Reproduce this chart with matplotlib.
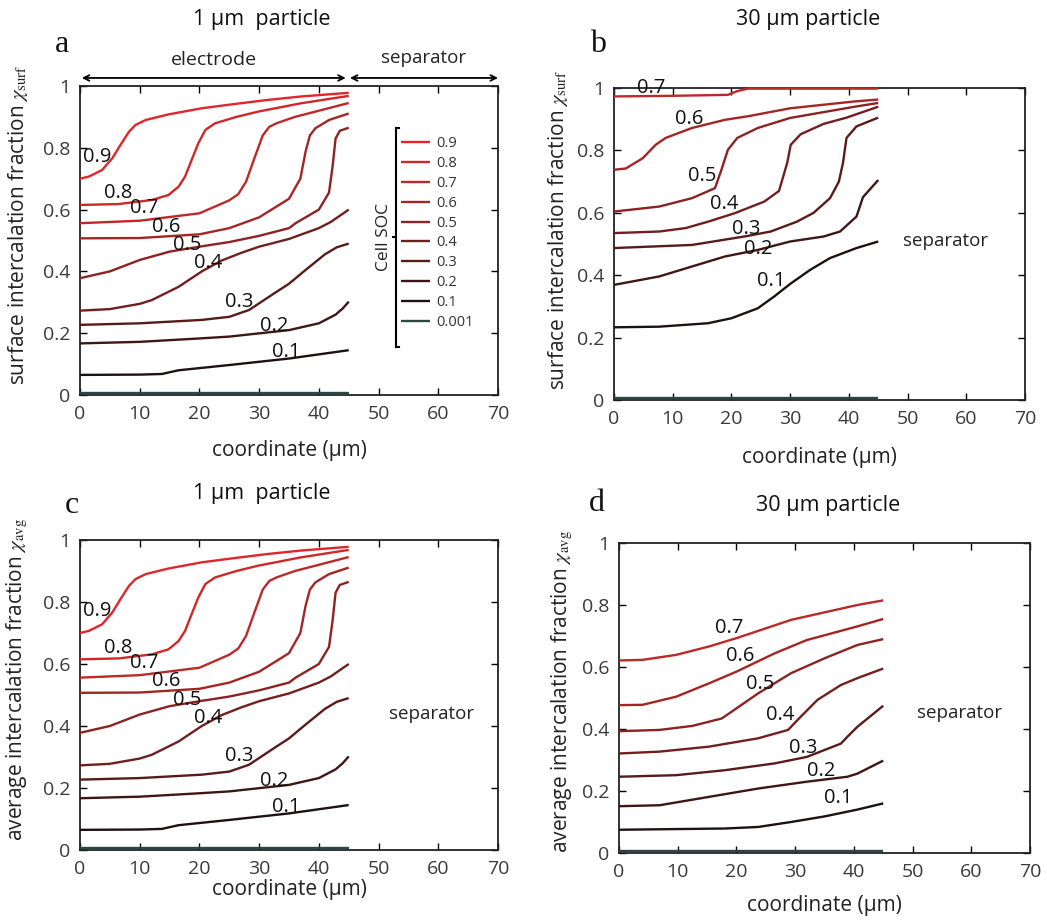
import matplotlib
matplotlib.use('Agg')
import matplotlib.pyplot as plt

plt.rcParams['font.family'] = ['Open Sans', 'DejaVu Sans']
plt.rcParams['mathtext.fontset'] = 'stix'

# cell state of charge for each curve
soc_levels = [0.9, 0.8, 0.7, 0.6, 0.5, 0.4, 0.3, 0.2, 0.1, 0.001]
soc_colors = ['#e3242b', '#d02828', '#bd2828', '#a52424', '#8c2222',
              '#731e1e', '#591a1a', '#3f1616', '#1c1212', '#2c4646']

# --- 1 um particle, surface fraction (panel a); panel c is the same ---
a09_x = [0, 1.5, 3.7, 5.4, 6.8, 8.2, 9.3, 11, 14.8, 20.4, 26, 31.5, 37, 45]
a09_y = [0.70, 0.707, 0.728, 0.766, 0.81, 0.852, 0.874, 0.89, 0.908, 0.928, 0.942, 0.955, 0.966, 0.978]
a08_x = [0, 6.5, 12, 14.8, 16.5, 17.6, 18.7, 19.8, 21, 22.6, 26, 29.8, 37, 45]
a08_y = [0.615, 0.618, 0.631, 0.647, 0.674, 0.707, 0.761, 0.814, 0.858, 0.879, 0.899, 0.917, 0.944, 0.968]
a07_x = [0, 10, 20, 25, 26.5, 27.8, 29.2, 30.6, 31.7, 33, 36, 40, 45]
a07_y = [0.556, 0.564, 0.588, 0.63, 0.65, 0.69, 0.766, 0.84, 0.868, 0.88, 0.90, 0.92, 0.945]
a06_x = [0, 10, 20, 25, 30, 35, 36.9, 37.8, 38.5, 39.4, 41.7, 45]
a06_y = [0.507, 0.508, 0.52, 0.54, 0.575, 0.635, 0.70, 0.79, 0.84, 0.863, 0.89, 0.911]
a05_x = [0, 5, 10, 15, 20, 25, 30, 35, 36.1, 40, 41.7, 42.3, 42.8, 43.5, 45]
a05_y = [0.378, 0.40, 0.437, 0.464, 0.48, 0.495, 0.515, 0.54, 0.556, 0.60, 0.655, 0.74, 0.83, 0.855, 0.865]
a04_x = [0, 5, 10, 12, 16.5, 20.4, 23.7, 27, 30, 35, 40, 42, 45]
a04_y = [0.273, 0.278, 0.295, 0.307, 0.35, 0.40, 0.435, 0.46, 0.48, 0.505, 0.54, 0.56, 0.60]
a03_x = [0, 10, 20.4, 25, 28.3, 32.6, 35, 37.8, 41, 43, 45]
a03_y = [0.227, 0.232, 0.243, 0.253, 0.275, 0.33, 0.36, 0.405, 0.455, 0.478, 0.49]
a02_x = [0, 10, 20, 25, 35, 40, 42.8, 44, 45]
a02_y = [0.167, 0.172, 0.183, 0.189, 0.21, 0.232, 0.26, 0.28, 0.302]
a01_x = [0, 10, 13.7, 16.5, 25, 35, 45]
a01_y = [0.065, 0.066, 0.068, 0.08, 0.097, 0.118, 0.145]
a0001_x = [0, 45]
a0001_y = [0.006, 0.006]

# --- 30 um particle, surface fraction (panel b) ---
b07_x = [0, 10, 19.4, 21, 22.8, 45]
b07_y = [0.973, 0.975, 0.978, 0.99, 0.998, 0.998]
b06_x = [0, 2, 4.9, 7.1, 8.8, 13.3, 18.9, 23, 30, 41, 45]
b06_y = [0.738, 0.742, 0.775, 0.818, 0.84, 0.872, 0.898, 0.91, 0.935, 0.957, 0.963]
b05_x = [0, 7.7, 13.3, 17.2, 18.3, 19.4, 21, 24.5, 30, 41, 45]
b05_y = [0.604, 0.62, 0.647, 0.679, 0.738, 0.802, 0.84, 0.872, 0.904, 0.94, 0.952]
b04_x = [0, 7.7, 12.2, 16.1, 20.6, 25.6, 28.1, 29.5, 30.1, 31.8, 35.7, 39.6, 45]
b04_y = [0.535, 0.54, 0.551, 0.572, 0.599, 0.636, 0.67, 0.76, 0.818, 0.852, 0.885, 0.905, 0.94]
b03_x = [0, 13.3, 22.5, 26.7, 31.2, 34, 36.8, 38.3, 39, 39.6, 41.3, 45]
b03_y = [0.487, 0.497, 0.525, 0.54, 0.572, 0.6, 0.647, 0.70, 0.76, 0.84, 0.877, 0.905]
b02_x = [0, 7.7, 13.3, 18.9, 24.5, 30, 35.7, 38.5, 41.3, 42.4, 45]
b02_y = [0.369, 0.396, 0.428, 0.46, 0.481, 0.508, 0.524, 0.54, 0.588, 0.65, 0.705]
b01_x = [0, 7.7, 16, 20, 24.5, 27.3, 30, 33.4, 36.8, 41.3, 45]
b01_y = [0.233, 0.235, 0.246, 0.262, 0.294, 0.332, 0.372, 0.417, 0.455, 0.487, 0.508]
b0001_x = [0, 45]
b0001_y = [0.006, 0.006]

# --- 30 um particle, average fraction (panel d) ---
d07_x = [0, 4, 9.7, 15.3, 20, 29.3, 40.6, 45]
d07_y = [0.621, 0.623, 0.639, 0.666, 0.693, 0.752, 0.80, 0.815]
d06_x = [0, 4, 9.7, 15.3, 20, 26.5, 32, 40.6, 45]
d06_y = [0.477, 0.478, 0.504, 0.547, 0.585, 0.644, 0.687, 0.731, 0.755]
d05_x = [0, 6.9, 12.5, 17.5, 19.2, 23.7, 29.3, 35, 40.6, 45]
d05_y = [0.393, 0.397, 0.41, 0.434, 0.456, 0.515, 0.58, 0.628, 0.671, 0.69]
d04_x = [0, 6.9, 15.3, 23.7, 28.8, 30.4, 33.8, 37.8, 40.6, 45]
d04_y = [0.321, 0.327, 0.343, 0.37, 0.397, 0.429, 0.494, 0.542, 0.564, 0.595]
d03_x = [0, 9.7, 18, 26.5, 32, 37.8, 38.9, 40.6, 45]
d03_y = [0.246, 0.251, 0.267, 0.289, 0.31, 0.353, 0.375, 0.407, 0.475]
d02_x = [0, 6.9, 15.3, 23.7, 32, 38.9, 40.6, 45]
d02_y = [0.151, 0.154, 0.181, 0.208, 0.23, 0.246, 0.256, 0.298]
d01_x = [0, 18, 23.7, 29.3, 35, 40.6, 45]
d01_y = [0.075, 0.079, 0.084, 0.10, 0.118, 0.14, 0.16]
d0001_x = [0, 45]
d0001_y = [0.006, 0.006]

surf_1um = [(a09_x, a09_y), (a08_x, a08_y), (a07_x, a07_y), (a06_x, a06_y), (a05_x, a05_y),
            (a04_x, a04_y), (a03_x, a03_y), (a02_x, a02_y), (a01_x, a01_y), (a0001_x, a0001_y)]
avg_1um = surf_1um
surf_30um = [(b07_x, b07_y), (b06_x, b06_y), (b05_x, b05_y), (b04_x, b04_y),
             (b03_x, b03_y), (b02_x, b02_y), (b01_x, b01_y), (b0001_x, b0001_y)]
avg_30um = [(d07_x, d07_y), (d06_x, d06_y), (d05_x, d05_y), (d04_x, d04_y),
            (d03_x, d03_y), (d02_x, d02_y), (d01_x, d01_y), (d0001_x, d0001_y)]

# where the soc numbers are written inside the plots
lab_1um = [(2.9, 0.771), (6.4, 0.653), (10.8, 0.604), (14.4, 0.545), (18, 0.485),
           (21.4, 0.426), (26.7, 0.302), (32.5, 0.224), (34.6, 0.14), None]
lab_30s = [(6.4, 1.0), (12.8, 0.90), (15.1, 0.717), (18.7, 0.629), (22.6, 0.548),
           (24.6, 0.484), (26.8, 0.383), None]
lab_30a = [(18.8, 0.725), (20.6, 0.636), (24.1, 0.545), (27.5, 0.445), (31.4, 0.34),
           (34.5, 0.265), (37.3, 0.176), None]

W, H = 1047, 922
fig = plt.figure(figsize=(W / 100, H / 100), dpi=100)


def rect(l, r, t, b):
    return [l / W, 1 - b / H, (r - l) / W, (b - t) / H]


def draw_panel(ax, curves, socs, labels):
    lines = []
    for (x, y), soc, pos in zip(curves, socs, labels):
        col = soc_colors[soc_levels.index(soc)]
        ln, = ax.plot(x, y, color=col, lw=1.7, zorder=3, clip_on=False, label=f'{soc:g}',
                      solid_joinstyle='round', solid_capstyle='butt')
        lines.append(ln)
        if pos is not None:
            ax.text(pos[0], pos[1], f'{soc:g}', fontsize=14.5, color='#111111',
                    ha='center', va='center', zorder=4)
    ax.set_xlim(0, 70)
    ax.set_ylim(0, 1)
    ax.set_xticks(range(0, 71, 10))
    ax.set_yticks([0, 0.2, 0.4, 0.6, 0.8, 1])
    ax.set_yticklabels(['0', '0.2', '0.4', '0.6', '0.8', '1'])
    ax.tick_params(direction='in', top=True, right=True, length=5, width=1,
                   labelsize=14, pad=7, labelcolor='#3a3a3a')
    for s in ax.spines.values():
        s.set_linewidth(1.3)
        s.set_color('#222222')
    return lines


ax_a = fig.add_axes(rect(80, 498, 86, 395))
ax_b = fig.add_axes(rect(614, 1025, 88, 400))
ax_c = fig.add_axes(rect(80, 498, 540, 850))
ax_d = fig.add_axes(rect(619, 1030, 543, 853))

lines_a = draw_panel(ax_a, surf_1um, soc_levels, lab_1um)
draw_panel(ax_b, surf_30um, soc_levels[2:], lab_30s)
draw_panel(ax_c, avg_1um, soc_levels, lab_1um)
draw_panel(ax_d, avg_30um, soc_levels[2:], lab_30a)

ylab_s = r'surface intercalation fraction $\chi_{\mathrm{surf}}$'
ylab_a = r'average intercalation fraction $\chi_{\mathrm{avg}}$'
for ax, yl, lx, ly, xy in [(ax_a, ylab_s, -0.12, 0.55, -0.145),
                           (ax_b, ylab_s, -0.107, 0.545, -0.15),
                           (ax_c, ylab_a, -0.12, 0.55, -0.095),
                           (ax_d, ylab_a, -0.107, 0.52, -0.135)]:
    ax.set_ylabel(yl, fontsize=15, color='#222222')
    ax.yaxis.set_label_coords(lx, ly)
    ax.set_xlabel('coordinate (μm)', fontsize=15, color='#222222')
    ax.xaxis.set_label_coords(0.5, xy)

# legend with bracket in panel a
leg = ax_a.legend(handles=lines_a, loc='upper left', bbox_to_anchor=(0.768, 0.837),
                  frameon=False, fontsize=10.5, handlelength=2.0, handletextpad=0.4,
                  labelspacing=0.33, borderpad=0, borderaxespad=0)
for t in leg.get_texts():
    t.set_color('#333333')
ax_a.plot([0.755, 0.755], [0.155, 0.864], transform=ax_a.transAxes, color='k', lw=1.5, clip_on=False)
ax_a.plot([0.755, 0.763], [0.864, 0.864], transform=ax_a.transAxes, color='k', lw=1.5, clip_on=False)
ax_a.plot([0.755, 0.763], [0.155, 0.155], transform=ax_a.transAxes, color='k', lw=1.5, clip_on=False)
ax_a.plot([0.748, 0.755], [0.51, 0.51], transform=ax_a.transAxes, color='k', lw=1.5, clip_on=False)
ax_a.text(0.728, 0.51, 'Cell SOC', transform=ax_a.transAxes, rotation=90,
          ha='center', va='center', fontsize=12.5, color='#222222')

# electrode / separator arrows above panel a
arr = dict(arrowstyle='<->', color='k', lw=1.3, shrinkA=0, shrinkB=0)
ax_a.annotate('', xy=(0.3, 1.026), xytext=(44.5, 1.026), xycoords=('data', 'axes fraction'),
              textcoords=('data', 'axes fraction'), arrowprops=arr)
ax_a.annotate('', xy=(45.2, 1.026), xytext=(70, 1.026), xycoords=('data', 'axes fraction'),
              textcoords=('data', 'axes fraction'), arrowprops=arr)
ax_a.text(22.5, 1.085, 'electrode', transform=ax_a.get_xaxis_transform(),
          ha='center', va='center', fontsize=14, color='#222222')
ax_a.text(57.5, 1.09, 'separator', transform=ax_a.get_xaxis_transform(),
          ha='center', va='center', fontsize=13.5, color='#222222')

ax_b.text(56.5, 0.51, 'separator', ha='center', va='center', fontsize=13.5, color='#222222')
ax_c.text(58.8, 0.44, 'separator', ha='center', va='center', fontsize=13.5, color='#222222')
ax_d.text(58.0, 0.45, 'separator', ha='center', va='center', fontsize=13.5, color='#222222')

# panel titles and letters
for txt, px, py in [('1 μm  particle', 262, 20), ('30 μm particle', 808, 20),
                    ('1 μm  particle', 262, 493), ('30 μm particle', 828, 505)]:
    fig.text(px / W, 1 - py / H, txt, ha='center', va='center', fontsize=15.5, color='#111111')
for txt, px, py in [('a', 62, 45), ('b', 598, 45), ('c', 72, 505), ('d', 597, 503)]:
    fig.text(px / W, 1 - py / H, txt, ha='center', va='center', fontsize=23,
             family='Liberation Serif', color='#111111')

fig.savefig('out.png', dpi=100)
